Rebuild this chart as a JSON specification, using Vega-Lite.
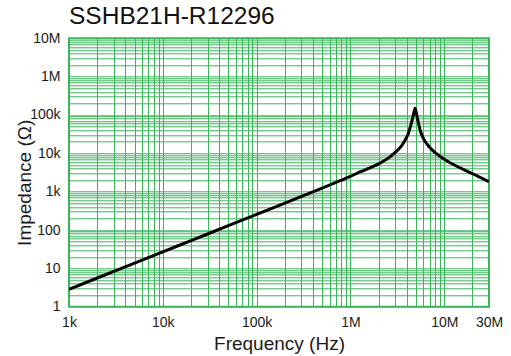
{
  "$schema": "https://vega.github.io/schema/vega-lite/v6.json",
  "autosize": {"type": "none"},
  "width": 420,
  "height": 268.4,
  "padding": {"left": 69, "top": 38.3, "right": 22, "bottom": 49.3},
  "background": "white",
  "title": {
    "text": "SSHB21H-R12296",
    "anchor": "start",
    "frame": "group",
    "font": "Liberation Sans",
    "fontSize": 24.5,
    "fontWeight": "normal",
    "color": "#111111",
    "offset": 1.5
  },
  "config": {
    "view": {"stroke": "#3cb45a", "strokeWidth": 2},
    "axis": {
      "labelFont": "Liberation Sans",
      "titleFont": "Liberation Sans",
      "labelFontSize": 14,
      "titleFontSize": 19,
      "titleFontWeight": "normal",
      "labelColor": "#1a1a1a",
      "titleColor": "#1a1a1a",
      "gridColor": "#3cb45a",
      "gridOpacity": 1,
      "gridWidth": 1,
      "ticks": false,
      "tickSize": 0,
      "domain": false,
      "labelOverlap": false,
      "labelBound": false,
      "labelFlush": false
    }
  },
  "data": {
    "values": [
      {"f": 1000, "z": 2.84},
      {"f": 2000, "z": 5.6},
      {"f": 5000, "z": 13.7},
      {"f": 10000, "z": 27},
      {"f": 20000, "z": 53},
      {"f": 50000, "z": 130},
      {"f": 100000, "z": 255},
      {"f": 200000, "z": 505},
      {"f": 500000, "z": 1240},
      {"f": 775000, "z": 1930},
      {"f": 1000000, "z": 2510},
      {"f": 1260000, "z": 3260},
      {"f": 1500000, "z": 3900},
      {"f": 1750000, "z": 4550},
      {"f": 2000000, "z": 5300},
      {"f": 2640000, "z": 8060},
      {"f": 3000000, "z": 10600},
      {"f": 3520000, "z": 15900},
      {"f": 3850000, "z": 22600},
      {"f": 4140000, "z": 33000},
      {"f": 4510000, "z": 68000},
      {"f": 4700000, "z": 103000},
      {"f": 4890000, "z": 150000},
      {"f": 5050000, "z": 110000},
      {"f": 5210000, "z": 75000},
      {"f": 5610000, "z": 36000},
      {"f": 6000000, "z": 24300},
      {"f": 6760000, "z": 15800},
      {"f": 8000000, "z": 10400},
      {"f": 9000000, "z": 8360},
      {"f": 10000000, "z": 7050},
      {"f": 13600000, "z": 4610},
      {"f": 20400000, "z": 2890},
      {"f": 30000000, "z": 1820}
    ]
  },
  "mark": {"type": "line", "color": "#000000", "strokeWidth": 3, "interpolate": "monotone", "clip": true},
  "encoding": {
    "x": {
      "field": "f",
      "type": "quantitative",
      "scale": {"type": "log", "domain": [1000, 30000000], "nice": false},
      "axis": {
        "title": "Frequency (Hz)",
        "titleY": 43,
        "titleBaseline": "alphabetic",
        "labelPadding": 9,
        "values": [1000,2000,3000,4000,5000,6000,7000,8000,9000,10000,20000,30000,40000,50000,60000,70000,80000,90000,100000,200000,300000,400000,500000,600000,700000,800000,900000,1000000,2000000,3000000,4000000,5000000,6000000,7000000,8000000,9000000,10000000,20000000,30000000],
        "labelExpr": "datum.value==1000?'1k':datum.value==10000?'10k':datum.value==100000?'100k':datum.value==1000000?'1M':datum.value==10000000?'10M':datum.value==30000000?'30M':''"
      }
    },
    "y": {
      "field": "z",
      "type": "quantitative",
      "scale": {"type": "log", "domain": [1, 10000000], "nice": false},
      "axis": {
        "title": "Impedance (Ω)",
        "titleX": -39,
        "titleY": 144,
        "titleAngle": -90,
        "titleAlign": "center",
        "titleBaseline": "alphabetic",
        "labelPadding": 9,
        "values": [1,2,3,4,5,6,7,8,9,10,20,30,40,50,60,70,80,90,100,200,300,400,500,600,700,800,900,1000,2000,3000,4000,5000,6000,7000,8000,9000,10000,20000,30000,40000,50000,60000,70000,80000,90000,100000,200000,300000,400000,500000,600000,700000,800000,900000,1000000,2000000,3000000,4000000,5000000,6000000,7000000,8000000,9000000,10000000],
        "labelExpr": "datum.value==1?'1':datum.value==10?'10':datum.value==100?'100':datum.value==1000?'1k':datum.value==10000?'10k':datum.value==100000?'100k':datum.value==1000000?'1M':datum.value==10000000?'10M':''"
      }
    }
  }
}
